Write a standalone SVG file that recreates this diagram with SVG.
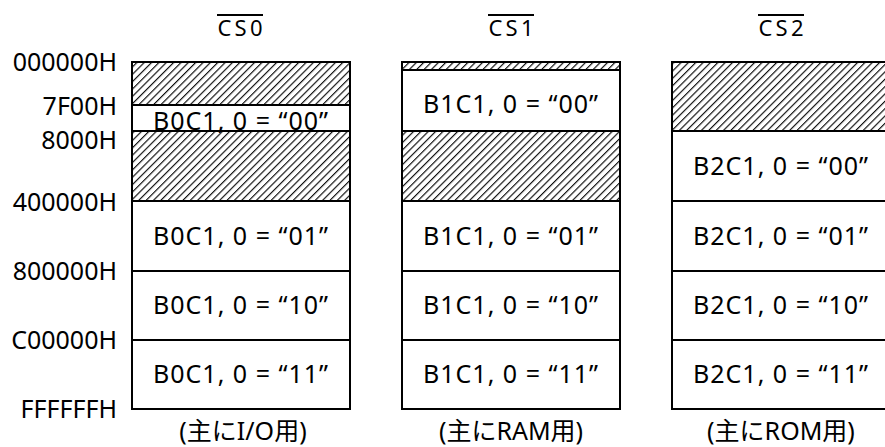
<svg xmlns="http://www.w3.org/2000/svg" width="885" height="447" viewBox="0 0 885 447">
<defs>
<pattern id="hatch" patternUnits="userSpaceOnUse" width="5.2" height="10" patternTransform="rotate(45)">
<rect width="5.2" height="10" fill="#fff"/>
<line x1="0.6" y1="0" x2="0.6" y2="10" stroke="#000" stroke-width="1.1"/>
</pattern>
</defs>
<style>
.t{font-family:"Noto Sans","Noto Sans CJK JP",sans-serif;font-size:25px;fill:#000}
.e{text-anchor:end}
.m{text-anchor:middle}
.v{letter-spacing:1px}
.hd{font-size:22px}
.b{fill:#fff;stroke:#000;stroke-width:2}
.h{fill:url(#hatch);stroke:#000;stroke-width:2}
.ol{stroke:#000;stroke-width:1.8}
</style>
<rect width="885" height="447" fill="#fff"/>
<g id="addresses" class="t e">
<text x="117" y="71">000000H</text>
<text x="117" y="115">7F00H</text>
<text x="117" y="149">8000H</text>
<text x="117" y="211">400000H</text>
<text x="117" y="280">800000H</text>
<text x="117" y="349">C00000H</text>
<text x="117" y="418">FFFFFFH</text>
</g>
<g id="cs0">
<rect class="h" x="132" y="62" width="218" height="43"/>
<rect class="b" x="132" y="105" width="218" height="26"/>
<rect class="h" x="132" y="131" width="218" height="70"/>
<rect class="b" x="132" y="201" width="218" height="70"/>
<rect class="b" x="132" y="271" width="218" height="69"/>
<rect class="b" x="132" y="340" width="218" height="69"/>
<g class="t m">
<text class="hd" x="240" y="36" textLength="45" lengthAdjust="spacing">CS0</text>
<text class="v" x="241" y="130">B0C1, 0 =  “00”</text>
<text class="v" x="241" y="245">B0C1, 0 =  “01”</text>
<text class="v" x="241" y="314">B0C1, 0 =  “10”</text>
<text class="v" x="241" y="383">B0C1, 0 =  “11”</text>
<text x="243" y="440">(主にI/O用)</text>
</g>
<line class="ol" x1="217" y1="15" x2="263" y2="15"/>
</g>
<g id="cs1">
<rect class="h" x="402" y="62" width="218" height="8"/>
<rect class="b" x="402" y="70" width="218" height="61"/>
<rect class="h" x="402" y="131" width="218" height="70"/>
<rect class="b" x="402" y="201" width="218" height="70"/>
<rect class="b" x="402" y="271" width="218" height="69"/>
<rect class="b" x="402" y="340" width="218" height="69"/>
<g class="t m">
<text class="hd" x="511" y="36" textLength="45" lengthAdjust="spacing">CS1</text>
<text class="v" x="511" y="113">B1C1, 0 =  “00”</text>
<text class="v" x="511" y="245">B1C1, 0 =  “01”</text>
<text class="v" x="511" y="314">B1C1, 0 =  “10”</text>
<text class="v" x="511" y="383">B1C1, 0 =  “11”</text>
<text x="511" y="440">(主にRAM用)</text>
</g>
<line class="ol" x1="488" y1="15" x2="534" y2="15"/>
</g>
<g id="cs2">
<rect class="h" x="672" y="62" width="218" height="69"/>
<rect class="b" x="672" y="131" width="218" height="70"/>
<rect class="b" x="672" y="201" width="218" height="70"/>
<rect class="b" x="672" y="271" width="218" height="69"/>
<rect class="b" x="672" y="340" width="218" height="69"/>
<g class="t m">
<text class="hd" x="781" y="36" textLength="45" lengthAdjust="spacing">CS2</text>
<text class="v" x="781" y="175">B2C1, 0 =  “00”</text>
<text class="v" x="781" y="245">B2C1, 0 =  “01”</text>
<text class="v" x="781" y="314">B2C1, 0 =  “10”</text>
<text class="v" x="781" y="383">B2C1, 0 =  “11”</text>
<text x="781" y="440">(主にROM用)</text>
</g>
<line class="ol" x1="758" y1="15" x2="804" y2="15"/>
</g>
<g id="connectors"/>
</svg>
